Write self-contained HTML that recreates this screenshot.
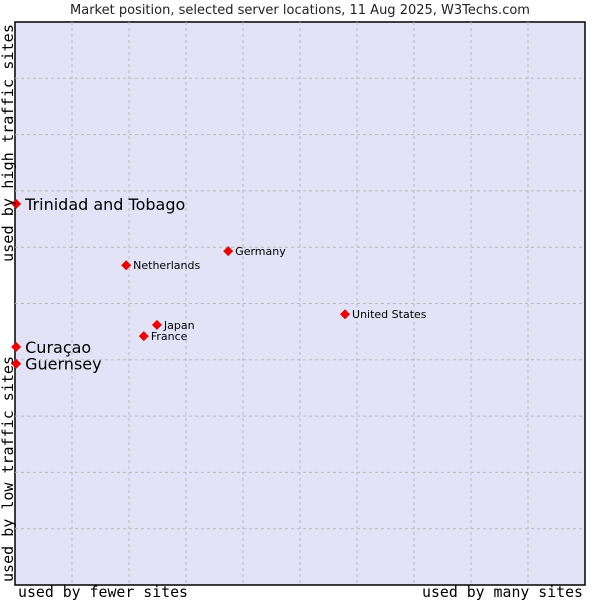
<!DOCTYPE html>
<html><head><meta charset="utf-8"><style>
body{margin:0;background:#fff;}
svg{display:block;font-family:"DejaVu Sans","Liberation Sans",sans-serif;}
</style></head><body>
<svg id="chart" width="600" height="600">
<text x="300" y="14" text-anchor="middle" font-size="13" fill="#222">Market position, selected server locations, 11 Aug 2025, W3Techs.com</text>
<rect x="15" y="22" width="570" height="563" fill="#e3e3f7" stroke="#000" stroke-width="1.5"/>
<g id="grid"></g>
<g id="points"></g>
<text x="18" y="597" textLength="170" lengthAdjust="spacingAndGlyphs" font-family="DejaVu Sans Mono, Liberation Mono, monospace" font-size="15" fill="#000">used by fewer sites</text>
<text x="422" y="597" textLength="161" lengthAdjust="spacingAndGlyphs" font-family="DejaVu Sans Mono, Liberation Mono, monospace" font-size="15" fill="#000">used by many sites</text>
<text transform="translate(13,582) rotate(-90)" textLength="226" lengthAdjust="spacingAndGlyphs" font-family="DejaVu Sans Mono, Liberation Mono, monospace" font-size="15" fill="#000">used by low traffic sites</text>
<text transform="translate(13,262) rotate(-90)" textLength="238" lengthAdjust="spacingAndGlyphs" font-family="DejaVu Sans Mono, Liberation Mono, monospace" font-size="15" fill="#000">used by high traffic sites</text>
</svg>
<script>
const names = ["Trinidad and Tobago","Curaçao","Guernsey","Netherlands","Germany","United States","Japan","France"];
const xValues = [0.2,0.2,0.2,19.5,37.4,57.9,24.9,22.6];
const yValues = [67.7,42.3,39.3,56.8,59.3,48.1,46.2,44.2];
const highlighted = [true,true,true,false,false,false,false,false];
const L=15,R=585,T=22,B=585;
const sx=v=>L+(R-L)*v/100, sy=v=>B-(B-T)*v/100;
const NS="http://www.w3.org/2000/svg";
const grid=document.getElementById('grid');
for(let i=1;i<10;i++){
  const v=document.createElementNS(NS,'line');
  v.setAttribute('x1',sx(i*10));v.setAttribute('x2',sx(i*10));v.setAttribute('y1',T);v.setAttribute('y2',B);
  v.setAttribute('stroke','#bbb');v.setAttribute('stroke-dasharray','3,3');
  
  
  grid.appendChild(v);
  const h=document.createElementNS(NS,'line');
  h.setAttribute('y1',sy(i*10));h.setAttribute('y2',sy(i*10));h.setAttribute('x1',L);h.setAttribute('x2',R);
  h.setAttribute('stroke','#bbb');h.setAttribute('stroke-dasharray','3,3');
  
  
  grid.appendChild(h);
}
const pg=document.getElementById('points');
names.forEach((n,i)=>{
  const x=sx(xValues[i]), y=sy(yValues[i]);
  const p=document.createElementNS(NS,'polygon');
  p.setAttribute('points',`${x},${y-5} ${x+5},${y} ${x},${y+5} ${x-5},${y}`);
  p.setAttribute('fill','#e00');
  
  
  pg.appendChild(p);
  const t=document.createElementNS(NS,'text');
  t.setAttribute('x',x+(highlighted[i]?9:7));
  t.setAttribute('y',y+(highlighted[i]?6:4));
  t.setAttribute('font-size',highlighted[i]?16:11);
  t.setAttribute('fill','#000');
  t.textContent=n;
  
  
  pg.appendChild(t);
});
</script>
</body></html>
